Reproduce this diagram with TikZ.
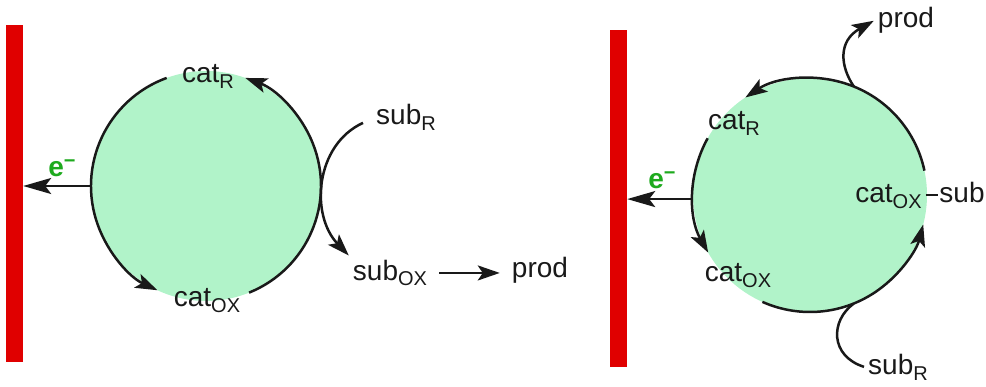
\documentclass[tikz,border=0pt]{standalone}
\usepackage{fontspec}
\setmainfont{Liberation Sans}
\usetikzlibrary{arrows.meta}
\definecolor{elec}{RGB}{224,0,0}
\definecolor{cyc}{RGB}{177,243,201}
\definecolor{egreen}{RGB}{30,170,30}
\definecolor{ink}{RGB}{25,25,25}
\newcommand{\lo}[1]{\raisebox{-6pt}{\fontsize{20}{22}\selectfont #1}}
\newcommand{\eminus}{e\raisebox{9pt}{\fontsize{20}{22}\selectfont −}}

\begin{document}
\begin{tikzpicture}[x=1pt, y=1pt,
    lbl/.style={font=\fontsize{28}{30}\selectfont, text=ink, anchor=base, inner sep=4pt},
    elbl/.style={font=\fontsize{28}{30}\selectfont\bfseries, text=egreen, inner sep=0pt},
    electrode/.style={fill=elec, minimum width=17pt, minimum height=337pt, inner sep=0pt},
    ringbg/.style={circle, fill=cyc, minimum size=#1, inner sep=0pt, outer sep=0pt},
    ring/.style={line width=2.5pt, draw=ink},
    arr/.style={-{Stealth[length=22pt, width=15pt, inset=5pt]}, line width=2.5pt, draw=ink},
    earr/.style={-{Stealth[length=28pt, width=16pt, inset=6pt]}, line width=2.5pt, draw=ink}]
    \useasboundingbox (0,0) rectangle (986,386);

    % left: outer-sphere cycle
    \node[electrode] (elL) at (14.5,192.5) {};
    \node[ringbg=230pt] (cycL) at (206,200) {};
    \draw[arr] (cycL.110) arc[start angle=110, end angle=245, radius=115];
    \draw[arr] (cycL.-68) arc[start angle=-68, end angle=70, radius=115];
    \node[lbl] (catRL) at (208,303) {cat\lo{R}};
    \node[lbl] (catOXL) at (207,79) {cat\lo{OX}};
    \draw[earr] (cycL.west) -- (cycL.west -| elL.east);
    \node[elbl] (eL) at (62,218) {\eminus};
    \node[lbl] (subRL) at (406,261) {sub\lo{R}};
    \node[lbl] (subOXL) at (390,106) {sub\lo{OX}};
    \node[lbl] (prodL) at (540,108) {prod};
    \draw[arr] ([shift={(-9,-5)}]subRL.west) .. controls (315,241) and (310,171) .. (subOXL.north west);
    \draw[arr, shorten <=8pt, shorten >=8pt] (subOXL.east) -- (subOXL.east -| prodL.west);

    % right: inner-sphere cycle
    \node[electrode] (elR) at (618.5,187.5) {};
    \node[ringbg=234pt] (cycR) at (810,191) {};
    \draw[arr] (cycR.12) arc[start angle=12, end angle=123.5, radius=117];
    \draw[arr] (cycR.151) arc[start angle=151, end angle=209.5, radius=117];
    \draw[arr] (cycR.246) arc[start angle=246, end angle=345.4, radius=117];
    \node[lbl] (catRR) at (734,256) {cat\lo{R}};
    \node[lbl] (catOXB) at (738,104) {cat\lo{OX}};
    \node[lbl] (catOXR) at (888.5,183) {cat\lo{OX}};
    \node[lbl] (subR) at (962,183) {sub};
    \draw[ring] (catOXR.east) ++(0,2) -- ++(12,0);
    \draw[earr] (cycR.182) -- (cycR.182 -| elR.east);
    \node[elbl] (eR) at (662,206) {\eminus};
    \node[lbl] (prodR) at (906,358) {prod};
    \node[lbl] (subRR) at (898,12) {sub\lo{R}};
    \draw[arr] (cycR.68) .. controls (840,320) and (838,345) .. (prodR.west);
    \draw[ring] (subRR.west) .. controls (830,30) and (830,65) .. (cycR.-68);
\end{tikzpicture}
\end{document}
